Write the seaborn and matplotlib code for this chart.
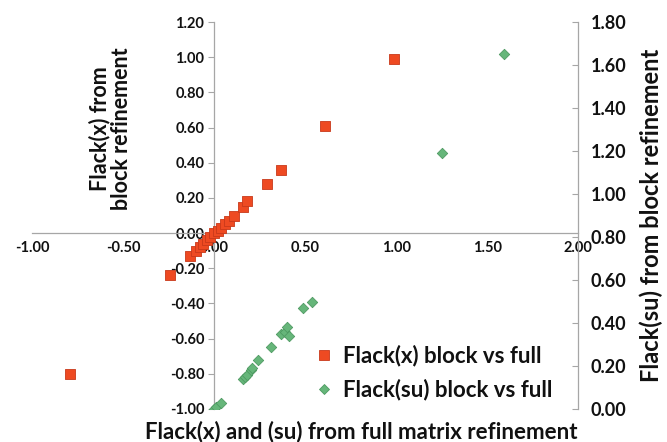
import matplotlib
matplotlib.use("Agg")
import matplotlib.pyplot as plt
from matplotlib.lines import Line2D
from matplotlib.ticker import MultipleLocator, FormatStrFormatter
import seaborn as sns
import pandas as pd

# Flack(x): full-matrix refinement vs block refinement
flack_x_full = [-0.79, -0.24, -0.13, -0.10, -0.08, -0.06, -0.04, -0.02, 0.00, 0.02,
                0.04, 0.06, 0.08, 0.11, 0.16, 0.18, 0.29, 0.37, 0.61, 0.99]
flack_x_block = [-0.80, -0.24, -0.13, -0.10, -0.08, -0.06, -0.04, -0.02, 0.00, 0.01,
                 0.03, 0.05, 0.07, 0.10, 0.15, 0.18, 0.28, 0.36, 0.61, 0.99]

# Flack(su): full-matrix refinement vs block refinement
flack_su_full = [0.00, 0.01, 0.04, 0.16, 0.17, 0.18, 0.20, 0.21, 0.24, 0.31,
                 0.37, 0.39, 0.40, 0.41, 0.49, 0.54, 1.25, 1.59]
flack_su_block = [0.00, 0.01, 0.03, 0.14, 0.15, 0.16, 0.18, 0.19, 0.23, 0.29,
                  0.35, 0.36, 0.38, 0.34, 0.47, 0.50, 1.19, 1.65]

series_labels = ["Flack(x) block vs full", "Flack(su) block vs full"]

RED = "#EE4A22"
RED_EDGE = "#C8391A"
GREEN = "#66B67A"
GREEN_EDGE = "#4E9A62"
AXIS_GREY = "#A6A6A6"
INK = "#111111"

sns.set_theme(style="white")
plt.rcParams["font.family"] = ["Lato", "DejaVu Sans"]
plt.rcParams["font.weight"] = "bold"

df_x = pd.DataFrame({"full": flack_x_full, "block": flack_x_block})
df_su = pd.DataFrame({"full": flack_su_full, "block": flack_su_block})

fig = plt.figure(figsize=(6.67, 4.42), dpi=100)
ax = fig.add_axes([0.048, 0.0747, 0.819, 0.8753])
ax2 = ax.twinx()

sns.scatterplot(data=df_x, x="full", y="block", ax=ax, marker="s", s=60,
                color=RED, edgecolor=RED_EDGE, linewidth=0.6, legend=False, zorder=3)
sns.scatterplot(data=df_su, x="full", y="block", ax=ax2, marker="D", s=28,
                color=GREEN, edgecolor=GREEN_EDGE, linewidth=0.6, legend=False, zorder=3)

ax.set_xlim(-1.0, 2.0)
ax.set_ylim(-1.0, 1.2)
ax2.set_ylim(0.0, 1.8)

# primary axes cross at the origin
ax.spines["left"].set_position(("data", 0))
ax.spines["bottom"].set_position(("data", 0))
for s in ("top", "right"):
    ax.spines[s].set_visible(False)
for s in ("top", "left", "bottom"):
    ax2.spines[s].set_visible(False)
for s in ("left", "bottom"):
    ax.spines[s].set_color(AXIS_GREY)
    ax.spines[s].set_linewidth(0.9)
ax2.spines["right"].set_color(AXIS_GREY)
ax2.spines["right"].set_linewidth(0.9)

ax.xaxis.set_major_locator(MultipleLocator(0.5))
ax.yaxis.set_major_locator(MultipleLocator(0.2))
ax2.yaxis.set_major_locator(MultipleLocator(0.2))
fmt = FormatStrFormatter("%.2f")
ax.xaxis.set_major_formatter(fmt)
ax.yaxis.set_major_formatter(fmt)
ax2.yaxis.set_major_formatter(fmt)

ax.tick_params(axis="x", direction="inout", length=5, width=0.8, color=AXIS_GREY,
               labelsize=10.5, pad=3, labelcolor=INK)
ax.tick_params(axis="y", direction="out", length=4, width=0.8, color=AXIS_GREY,
               labelsize=10.5, pad=3, labelcolor=INK)
ax2.tick_params(axis="y", direction="in", length=4, width=0.8, color=AXIS_GREY,
                labelsize=13, pad=9, labelcolor=INK)
for lab in ax.get_xticklabels() + ax.get_yticklabels() + ax2.get_yticklabels():
    lab.set_fontweight("bold")

ax.set_xlabel("")
ax.set_ylabel("")
ax2.set_ylabel("")

title_kw = dict(fontweight="bold", color=INK)
fig.text(0.166, 0.708, "Flack(x) from\nblock refinement", rotation=90, fontsize=15.5,
         ha="center", va="center", multialignment="center", linespacing=1.05, **title_kw)
fig.text(0.977, 0.513, "Flack(su) from block refinement", rotation=90, fontsize=17,
         ha="center", va="center", **title_kw)
fig.text(0.541, 0.024, "Flack(x) and (su) from full matrix refinement", fontsize=16,
         ha="center", va="center", **title_kw)

handles = [
    Line2D([], [], linestyle="none", marker="s", markersize=7, color=RED,
           markeredgecolor=RED_EDGE, markeredgewidth=0.6),
    Line2D([], [], linestyle="none", marker="D", markersize=5, color=GREEN,
           markeredgecolor=GREEN_EDGE, markeredgewidth=0.6),
]
leg = ax.legend(handles, series_labels, loc="upper left",
                bbox_to_anchor=(0.468, 0.23), bbox_transform=fig.transFigure,
                frameon=False, handlelength=0.7, handletextpad=0.5,
                labelspacing=0.55, borderaxespad=0, borderpad=0.2,
                prop={"size": 16, "weight": "bold"})
for t in leg.get_texts():
    t.set_color(INK)

fig.savefig("out.png", dpi=100)
